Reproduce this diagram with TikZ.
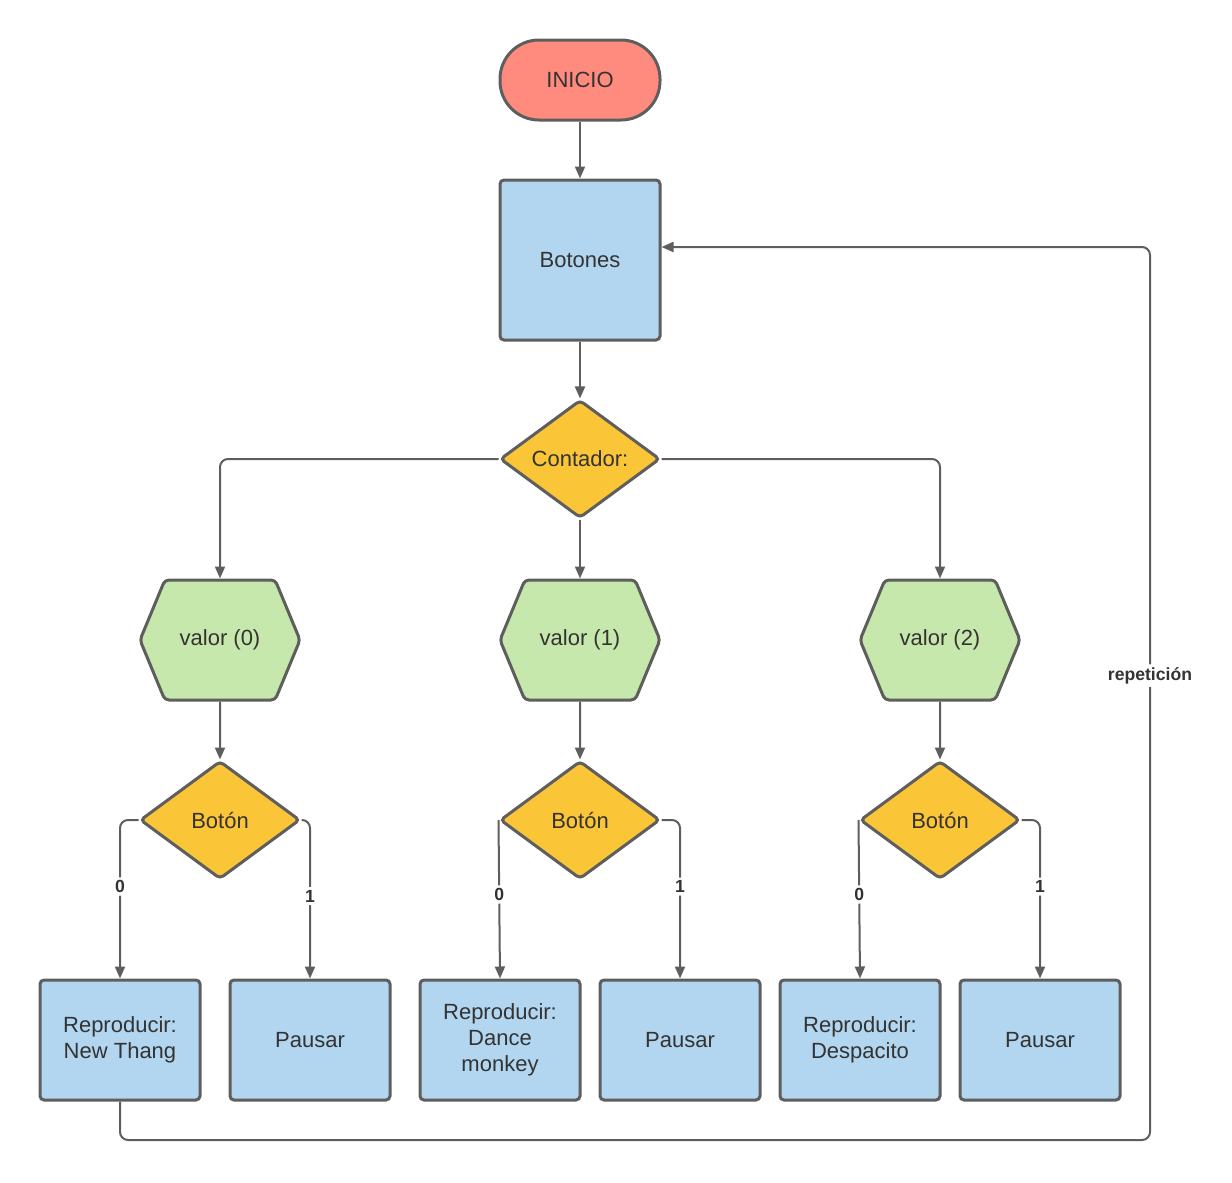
\documentclass[tikz,border=0pt]{standalone}
\usepackage{fontspec}
\setmainfont{Liberation Sans}
\usepackage{tikz}
\usetikzlibrary{positioning,arrows.meta,calc,shapes.geometric,shapes.symbols}
\definecolor{flowline}{HTML}{5E5E5E}
\definecolor{flowtext}{HTML}{333333}
\definecolor{flowred}{HTML}{FF8B7E}
\definecolor{flowblue}{HTML}{B2D6EF}
\definecolor{flowyellow}{HTML}{FBC538}
\definecolor{flowgreen}{HTML}{C7E8AC}
\tikzset{
  flowstart/.style={
    draw=flowline,
    fill=flowred,
    line width=1.5pt,
    rectangle,
    rounded corners=19.5pt,
    align=center,
    text=flowtext,
    font=\fontsize{11}{13}\selectfont,
    minimum width=80pt,
    minimum height=40pt
  },
  flowbox/.style={
    draw=flowline,
    fill=flowblue,
    line width=1.5pt,
    rectangle,
    rounded corners=2pt,
    align=center,
    text=flowtext,
    font=\fontsize{11}{13}\selectfont,
    minimum width=80pt,
    minimum height=60pt,
    inner sep=2pt
  },
  flowdiamond/.style={
    draw=flowline,
    fill=flowyellow,
    line width=1.5pt,
    diamond,
    rounded corners=2pt,
    aspect=1.35,
    inner sep=0pt,
    align=center,
    text=flowtext,
    font=\fontsize{11}{13}\selectfont,
    minimum width=80pt,
    minimum height=59pt
  },
  flowhex/.style={
    draw=flowline,
    fill=flowgreen,
    line width=1.5pt,
    signal,
    signal to=west and east,
    signal pointer angle=135,
    rounded corners=2pt,
    inner sep=0pt,
    align=center,
    text=flowtext,
    font=\fontsize{11}{13}\selectfont,
    minimum width=80pt,
    minimum height=60pt
  },
  flowarrow/.style={
    -{Triangle[length=6pt,width=5pt]},
    draw=flowline,
    line width=1pt,
    rounded corners=4pt
  },
  flowlabel/.style={
    fill=white,
    text=flowtext,
    inner sep=1.5pt,
    font=\fontsize{8.8}{10}\selectfont\bfseries
  }
}

\begin{document}
\begin{tikzpicture}[
    x=0.5pt, y=-0.5pt
    ]
    \useasboundingbox (0,0) rectangle (1232,1183);

    \node[flowstart] (inicio) at (580,80) {INICIO};
    \node[flowbox, minimum height=80pt] (botones) at (580,260) {Botones};
    \node[flowdiamond] (contador) at (580,459) {Contador:};

    \node[flowhex] (valor0) at (220,640) {valor (0)};
    \node[flowhex] (valor1) at (580,640) {valor (1)};
    \node[flowhex] (valor2) at (940,640) {valor (2)};

    \node[flowdiamond] (boton0) at (220,820) {Botón};
    \node[flowdiamond] (boton1) at (580,820) {Botón};
    \node[flowdiamond] (boton2) at (940,820) {Botón};

    \node[flowbox] (repro0) at (120,1040) {Reproducir:\\New Thang};
    \node[flowbox] (pausa0) at (310,1040) {Pausar};
    \node[flowbox] (repro1) at (500,1040) {Reproducir:\\Dance\\monkey};
    \node[flowbox] (pausa1) at (680,1040) {Pausar};
    \node[flowbox] (repro2) at (860,1040) {Reproducir:\\Despacito};
    \node[flowbox] (pausa2) at (1040,1040) {Pausar};

    \draw[flowarrow] (inicio) -- (botones);
    \draw[flowarrow] (botones) -- (contador);

    \draw[flowarrow] (contador.west) -| (valor0.north);
    \draw[flowarrow] (contador.south) -- (valor1.north);
    \draw[flowarrow] (contador.east) -| (valor2.north);

    \draw[flowarrow] (valor0) -- (boton0);
    \draw[flowarrow] (valor1) -- (boton1);
    \draw[flowarrow] (valor2) -- (boton2);

    \draw[flowarrow] (boton0.west) -| node[flowlabel, pos=0.71]{0} (repro0.north);
    \draw[flowarrow] (boton0.east) -| node[flowlabel, pos=0.74]{1} (pausa0.north);
    \draw[flowarrow] (boton1.west) -- node[flowlabel, pos=0.47]{0} (repro1.north);
    \draw[flowarrow] (boton1.east) -| node[flowlabel, pos=0.71]{1} (pausa1.north);
    \draw[flowarrow] (boton2.west) -- node[flowlabel, pos=0.47]{0} (repro2.north);
    \draw[flowarrow] (boton2.east) -| node[flowlabel, pos=0.71]{1} (pausa2.north);

    \coordinate (loopin) at ([yshift=6.5pt]botones.east);
    \coordinate (loopcorner) at (1150,1140);
    \draw[flowarrow]
      (repro0.south) |- (loopcorner)
      -- node[flowlabel, pos=0.52]{repetición} (loopcorner |- loopin)
      -- (loopin);

\end{tikzpicture}
\end{document}
